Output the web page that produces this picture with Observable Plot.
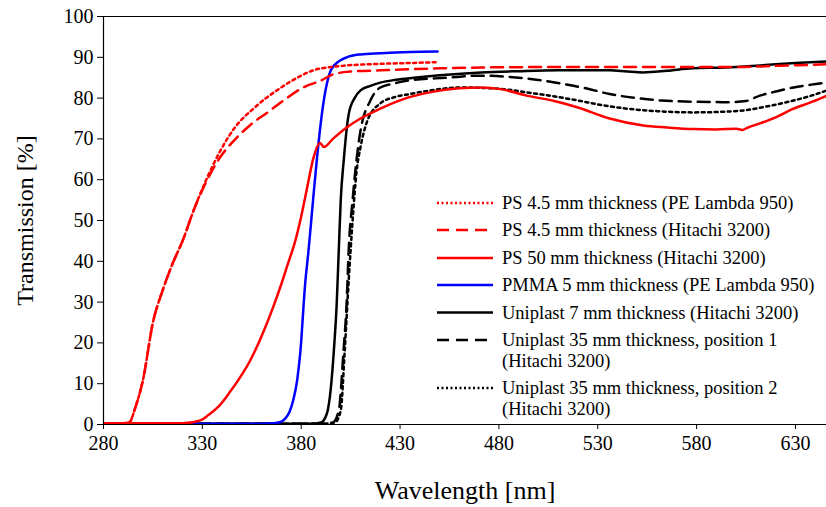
<!DOCTYPE html>
<html>
<head>
<meta charset="utf-8">
<script src="https://cdn.jsdelivr.net/npm/d3@7"></script>
<script src="https://cdn.jsdelivr.net/npm/@observablehq/plot@0.6"></script>
<style>
  html, body { margin: 0; padding: 0; background: #fff; }
  #wrap { position: relative; width: 826px; height: 507px; font-family: "Liberation Serif", "Times New Roman", serif; }
  #wrap svg, #wrap svg text { font-family: "Liberation Serif", "Times New Roman", serif !important; }
  #legend { position: absolute; left: 0; top: 0; pointer-events: none; }
</style>
</head>
<body>
<div id="wrap"></div>
<script>
// ---- data ----
const xTicks = [280, 330, 380, 430, 480, 530, 580, 630];
const yTicks = [0, 10, 20, 30, 40, 50, 60, 70, 80, 90, 100];

const seriesNames = [
  "PS 4.5 mm thickness (PE Lambda 950)",
  "PS 4.5 mm thickness (Hitachi 3200)",
  "PS 50 mm thickness (Hitachi 3200)",
  "PMMA 5 mm thickness (PE Lambda 950)",
  "Uniplast 7 mm thickness (Hitachi 3200)",
  "Uniplast 35 mm thickness, position 1\n(Hitachi 3200)",
  "Uniplast 35 mm thickness, position 2\n(Hitachi 3200)"
];

const ps45peWl = [280, 290, 293, 296, 300, 305, 310, 315, 320, 326, 332, 339, 346, 356, 368, 380, 386, 395, 403, 420, 435, 448];
const ps45peT  = [0.3, 0.3, 0.5, 4, 11, 25, 33, 39.5, 45, 53, 60, 67, 72.5, 77.5, 82, 85.5, 86.8, 87.6, 88, 88.4, 88.6, 88.8];

const ps45hiWl = [280, 290, 293, 296, 300, 305, 310, 315, 320, 326, 332, 339, 346, 354, 363, 371, 381, 390, 396, 405, 420, 450, 471, 500, 550, 600, 620, 646];
const ps45hiT  = [0.3, 0.3, 0.5, 4, 11, 25, 33, 39.5, 45, 53, 59.5, 65.5, 69.6, 73.3, 76.5, 79.4, 82.6, 84.3, 85.8, 86.5, 86.8, 87.3, 87.5, 87.6, 87.6, 87.6, 87.9, 88.3];

const ps50Wl = [280, 320, 329, 333, 338, 344, 349, 354, 358, 362, 366, 370, 373, 377, 380, 383, 386, 389.5, 391.5, 396, 403, 410, 420, 432, 445, 460, 471, 481, 494, 508, 520, 536, 553, 565, 578, 590, 600, 603, 606, 612, 620, 629, 638, 646];
const ps50T  = [0.3, 0.3, 1, 2.3, 4.3, 8, 11.5, 15.5, 19.5, 24, 29, 34.5, 39, 45, 51, 58, 65, 69, 68, 70, 72.8, 75, 77.4, 79.8, 81.4, 82.4, 82.6, 82.2, 80.6, 79.3, 77.7, 75, 73.3, 72.8, 72.4, 72.3, 72.5, 72.2, 72.8, 73.8, 75.3, 77.4, 79, 80.6];

const pmmaWl = [280, 360, 366, 369.5, 372, 374, 376, 378, 379.6, 382, 383.7, 386, 388, 391, 395, 399, 403, 410, 420, 435, 449];
const pmmaT  = [0.2, 0.2, 0.3, 0.6, 1.5, 3, 6, 11, 18, 34.5, 42.6, 55, 65.4, 78, 86.8, 89, 90, 90.7, 91, 91.3, 91.4];

const uni7Wl = [280, 385, 390, 393, 395, 396.5, 398, 399, 400, 401.5, 404, 407, 410, 415, 420, 428, 437, 450, 471, 490, 510, 536, 545, 553, 565, 578, 595, 612, 630, 646];
const uni7T  = [0.2, 0.2, 0.5, 2.7, 9, 18, 30, 42.6, 55, 64.7, 76, 80, 81.9, 83, 83.8, 84.5, 85, 85.6, 86.3, 86.6, 86.8, 86.8, 86.5, 86.3, 86.7, 87.3, 87.5, 88, 88.6, 89];

const uni35aWl = [280, 390, 396, 399, 401.4, 403, 404, 406, 408, 410, 415, 420, 427, 434, 454, 470, 494, 511, 525, 536, 550, 562, 580, 596, 605, 612, 620, 629, 638, 646];
const uni35aT  = [0.2, 0.2, 0.5, 3.4, 18, 30, 42.6, 55, 65, 72, 79.4, 82.6, 83.6, 84.3, 85, 85.5, 84.8, 83.6, 82.3, 81, 80, 79.4, 79.1, 79, 79.3, 80.6, 81.6, 82.6, 83.3, 83.8];

const uni35bWl = [280, 391, 397, 400, 402, 404, 406, 408, 410, 413.5, 420, 427, 435, 447, 460, 480, 494, 507, 520, 532, 545, 560, 578, 590, 604, 615, 629, 638, 646];
const uni35bT  = [0.2, 0.2, 0.5, 3.4, 18, 35, 50, 62, 68, 74.5, 78.7, 80.2, 81, 82, 82.6, 82.3, 81.4, 80.5, 79.4, 78.3, 77.4, 76.8, 76.5, 76.6, 77, 77.9, 79.4, 80.6, 81.9];

// ---- styles ----
const styles = [
  {stroke: "#ff0000", dash: "3,3.5"},
  {stroke: "#ff0000", dash: "12,7"},
  {stroke: "#ff0000", dash: null},
  {stroke: "#0000ff", dash: null},
  {stroke: "#000000", dash: null},
  {stroke: "#000000", dash: "12,7"},
  {stroke: "#000000", dash: "3,3.5"}
];
const seriesData = [
  [ps45peWl, ps45peT], [ps45hiWl, ps45hiT], [ps50Wl, ps50T], [pmmaWl, pmmaT],
  [uni7Wl, uni7T], [uni35aWl, uni35aT], [uni35bWl, uni35bT]
];
const tables = seriesData.map(([w, t]) => w.map((x, i) => ({x, y: t[i]})));

// draw order: black, blue, red on top
const drawOrder = [6, 5, 4, 3, 2, 1, 0];
const lineMarks = drawOrder.map(i => Plot.line(tables[i], {
  x: "x", y: "y", stroke: styles[i].stroke, strokeWidth: 2.5,
  strokeDasharray: styles[i].dash, curve: "monotone-x", clip: true
}));

const chart = Plot.plot({
  width: 826,
  height: 507,
  marginLeft: 103,
  marginRight: 0,
  marginTop: 16,
  marginBottom: 83,
  style: {background: "#fff", color: "#000"},
  x: {domain: [280, 645.7]},
  y: {domain: [0, 100]},
  marks: [
    ...lineMarks,
    Plot.ruleY([0, 100], {stroke: "#000", strokeWidth: 1.2}),
    Plot.ruleX([280], {stroke: "#000", strokeWidth: 1.2}),
    Plot.axisX({ticks: xTicks, tickSize: 5, tickPadding: 6, fontSize: 20, tickFormat: d => String(d),
      label: "Wavelength [nm]", labelAnchor: "center", labelArrow: "none", labelOffset: 74}),
    Plot.axisY({ticks: yTicks, tickSize: 6, tickPadding: 4, fontSize: 20, tickFormat: d => String(d),
      label: "Transmission [%]", labelAnchor: "center", labelArrow: "none", labelOffset: 88})
  ]
});
// enlarge axis titles
d3.select(chart).selectAll("g[aria-label='x-axis label'] text").style("font-size", "26px");
d3.select(chart).selectAll("g[aria-label='y-axis label'] text").style("font-size", "24px");
document.getElementById("wrap").appendChild(chart);

// ---- legend (overlay) ----
const rowsY = [203, 230, 258, 285, 312.5, 340, 388];
const lg = d3.select("#wrap").append("svg").attr("id", "legend").attr("width", 826).attr("height", 507);
seriesNames.forEach((name, i) => {
  const y = rowsY[i];
  lg.append("line").attr("x1", 437).attr("x2", 493).attr("y1", y).attr("y2", y)
    .attr("stroke", styles[i].stroke).attr("stroke-width", 2.5)
    .attr("stroke-dasharray", styles[i].dash ? (styles[i].dash === "12,7" ? "12,7" : "2,2.5") : null);
  const t = lg.append("text").attr("x", 502).attr("y", y)
    .style("font-size", "18.5px").attr("fill", "#000");
  name.split("\n").forEach((ln, j) => {
    t.append("tspan").attr("x", 502).attr("dy", j === 0 ? "0.33em" : "21").text(ln);
  });
});
</script>
</body>
</html>
